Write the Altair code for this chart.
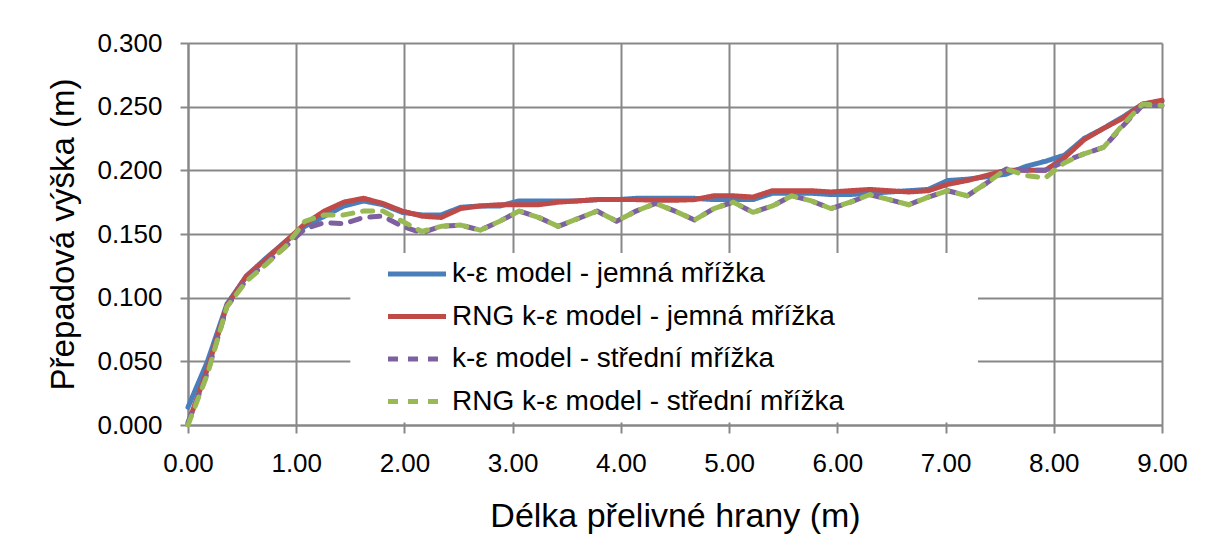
import altair as alt
import pandas as pd

# distance along the weir crest (m)
x_m = [0.00, 0.18, 0.36, 0.54, 0.72, 0.90, 1.08, 1.26, 1.44, 1.62,
       1.80, 1.98, 2.16, 2.34, 2.52, 2.70, 2.88, 3.06, 3.24, 3.42,
       3.60, 3.78, 3.96, 4.14, 4.32, 4.50, 4.68, 4.86, 5.04, 5.22,
       5.40, 5.58, 5.76, 5.94, 6.12, 6.30, 6.48, 6.66, 6.84, 7.02,
       7.20, 7.38, 7.56, 7.74, 7.92, 8.10, 8.28, 8.46, 8.64, 8.82, 9.00]

ke_fine = [0.014, 0.050, 0.095, 0.117, 0.131, 0.144, 0.156, 0.164, 0.172, 0.176,
           0.173, 0.167, 0.165, 0.165, 0.171, 0.172, 0.172, 0.176, 0.176, 0.176,
           0.176, 0.177, 0.177, 0.178, 0.178, 0.178, 0.178, 0.177, 0.177, 0.177,
           0.182, 0.182, 0.182, 0.181, 0.181, 0.182, 0.183, 0.184, 0.185, 0.192,
           0.193, 0.195, 0.197, 0.203, 0.207, 0.212, 0.225, 0.233, 0.242, 0.252, 0.254]

rng_fine = [0.001, 0.044, 0.094, 0.117, 0.130, 0.144, 0.158, 0.168, 0.175, 0.178,
            0.174, 0.168, 0.164, 0.163, 0.170, 0.172, 0.173, 0.173, 0.173, 0.175,
            0.176, 0.177, 0.177, 0.177, 0.1765, 0.1765, 0.177, 0.180, 0.180, 0.179,
            0.184, 0.184, 0.184, 0.183, 0.184, 0.185, 0.184, 0.183, 0.184, 0.189,
            0.192, 0.196, 0.200, 0.200, 0.200, 0.210, 0.224, 0.233, 0.241, 0.252, 0.255]

ke_medium = [0.002, 0.041, 0.093, 0.114, 0.127, 0.140, 0.154, 0.159, 0.158, 0.163,
             0.164, 0.156, 0.151, 0.156, 0.157, 0.153, 0.160, 0.168, 0.163, 0.156,
             0.162, 0.168, 0.160, 0.168, 0.174, 0.168, 0.161, 0.170, 0.175, 0.167,
             0.172, 0.180, 0.176, 0.170, 0.175, 0.181, 0.177, 0.173, 0.179, 0.184,
             0.180, 0.190, 0.201, 0.200, 0.200, 0.207, 0.213, 0.218, 0.235, 0.251, 0.251]

rng_medium = [0.000, 0.040, 0.093, 0.113, 0.126, 0.140, 0.160, 0.165, 0.165, 0.168,
              0.168, 0.160, 0.152, 0.156, 0.157, 0.153, 0.160, 0.168, 0.163, 0.156,
              0.162, 0.168, 0.160, 0.168, 0.174, 0.168, 0.161, 0.170, 0.175, 0.167,
              0.172, 0.180, 0.176, 0.170, 0.175, 0.181, 0.177, 0.173, 0.179, 0.184,
              0.180, 0.190, 0.201, 0.196, 0.194, 0.206, 0.213, 0.218, 0.236, 0.252, 0.251]

series_names = ["k-ε model - jemná mřížka",
                "RNG k-ε model - jemná mřížka",
                "k-ε model - střední mřížka",
                "RNG k-ε model - střední mřížka"]
series_values = [ke_fine, rng_fine, ke_medium, rng_medium]
series_colors = ["#4A7EBB", "#BE4B48", "#7D60A0", "#98B954"]
series_dashes = [[1, 0], [1, 0], [10, 10], [10, 10]]

x_ticks = [0, 1, 2, 3, 4, 5, 6, 7, 8, 9]
y_ticks = [0.0, 0.05, 0.10, 0.15, 0.20, 0.25, 0.30]

# white background behind the legend (data units)
legend_box_x = [1.50, 7.30]
legend_box_y = [0.002, 0.135]

FONT = "Liberation Sans"
GRID = "#888888"

rows = []
for name, vals in zip(series_names, series_values):
    for xv, yv in zip(x_m, vals):
        rows.append({"x": xv, "y": yv, "series": name})
df = pd.DataFrame(rows)

box_df = pd.DataFrame({"x": [legend_box_x[0]], "x2": [legend_box_x[1]],
                       "y": [legend_box_y[0]], "y2": [legend_box_y[1]]})

x_scale = alt.Scale(domain=[0, 9], nice=False, zero=False)
y_scale = alt.Scale(domain=[0, 0.3], nice=False)

x_axis = alt.Axis(values=x_ticks, format=".2f", title="Délka přelivné hrany (m)",
                  labelFontSize=26, titleFontSize=34, labelPadding=17, titlePadding=23,
                  tickSize=8, labelFlush=False)
y_axis = alt.Axis(values=y_ticks, format=".3f", title="Přepadová výška (m)",
                  labelFontSize=26, titleFontSize=33, labelPadding=18, titlePadding=16,
                  tickSize=8, labelFlush=False)

box = alt.Chart(box_df).mark_rect(color="white").encode(
    x=alt.X("x:Q", scale=x_scale, axis=x_axis),
    x2="x2:Q",
    y=alt.Y("y:Q", scale=y_scale, axis=y_axis),
    y2="y2:Q",
)

color_scale = alt.Scale(domain=series_names, range=series_colors)
dash_scale = alt.Scale(domain=series_names, range=series_dashes)
legend = alt.Legend(orient="none", legendX=197.5, legendY=210, title=None,
                    symbolType="stroke", symbolSize=3364, symbolStrokeWidth=5,
                    labelFontSize=28, labelFont=FONT, labelOffset=3.5, labelLimit=600,
                    clipHeight=42, rowPadding=0.5, padding=0, labelColor="black")

layers = [box]
for name in series_names:
    layers.append(
        alt.Chart(df).transform_filter(alt.datum.series == name).mark_line(
            strokeWidth=5, strokeCap="round", strokeJoin="round"
        ).encode(
            x=alt.X("x:Q", scale=x_scale, axis=x_axis),
            y=alt.Y("y:Q", scale=y_scale, axis=y_axis),
            color=alt.Color("series:N", scale=color_scale, legend=legend),
            strokeDash=alt.StrokeDash("series:N", scale=dash_scale, legend=legend),
        )
    )

chart = alt.layer(*layers).properties(
    width=974, height=382,
    padding={"left": 180, "top": 35, "right": 40, "bottom": 120},
    autosize=alt.AutoSizeParams(type="none"),
).configure_view(stroke=None).configure_axis(
    labelFont=FONT, titleFont=FONT, labelColor="black", titleColor="black",
    titleFontWeight="normal", gridColor=GRID, gridWidth=2, gridOpacity=1,
    domainColor=GRID, domainWidth=2, tickColor=GRID, tickWidth=2, grid=True,
)

chart.save("out.html", embed_options={"renderer": "svg", "actions": False})
